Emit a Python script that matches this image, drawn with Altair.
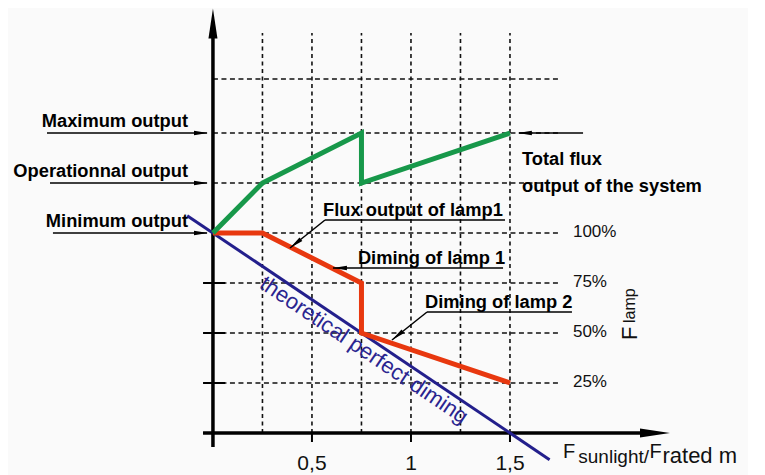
import math
import altair as alt
import pandas as pd

# ---------------- values ----------------
# x = F_sunlight / F_rated ; y = flux in % of one lamp
total_x = [0, 0.25, 0.75, 0.75, 1.5]
total_y = [100, 125, 150, 125, 150]
lamp_x = [0, 0.25, 0.75, 0.75, 1.5]
lamp_y = [100, 100, 75, 50, 25]
theory_x = [-0.13, 1.7]
theory_y = [108.67, -13.33]

grid_x = [0.25, 0.5, 0.75, 1.0, 1.25, 1.5]
grid_y = [25, 50, 75, 100, 125, 150, 177]
xtick_vals = [0.5, 1.0, 1.5]
xtick_labels = ["0,5", "1", "1,5"]
ytick_vals = [0, 25, 50, 75]
pct_vals = [100, 75, 50, 25]
pct_labels = ["100%", "75%", "50%", "25%"]
level_names = ["Maximum output", "Operationnal output", "Minimum output"]
level_vals = [150, 125, 100]

# ---------------- layout ----------------
W, H = 740, 467
XDOM = [-1.035, 2.702]
YDOM = [-21.0, 212.5]
SX = W / (XDOM[1] - XDOM[0])
SY = H / (YDOM[1] - YDOM[0])
xs = alt.Scale(domain=XDOM, nice=False, zero=False)
ys = alt.Scale(domain=YDOM, nice=False, zero=False)

BOLD = "Liberation Sans, Arial, sans-serif"
REG = "Liberation Sans, Arial, sans-serif"
ARROW = "M1,0L-1,-0.32L-1,0.32Z"
BIGARROW = "M1,0L-1,-0.3L-1,0.3Z"


def rules(rows, **kw):
    df = pd.DataFrame(rows, columns=["x", "y", "x2", "y2"])
    return alt.Chart(df).mark_rule(**kw).encode(
        x=alt.X("x:Q", scale=xs, axis=None),
        y=alt.Y("y:Q", scale=ys, axis=None),
        x2="x2:Q", y2="y2:Q")


def series(xv, yv, **kw):
    df = pd.DataFrame({"x": xv, "y": yv, "i": range(len(xv))})
    return alt.Chart(df).mark_line(**kw).encode(
        x=alt.X("x:Q", scale=xs, axis=None),
        y=alt.Y("y:Q", scale=ys, axis=None),
        order=alt.Order("i:Q"))


def heads(rows, shape, length):
    # rows: (tip_x, tip_y, angle_deg)
    out = []
    for tx, ty, a in rows:
        r = math.radians(a)
        cx = tx - (length / 2) * math.cos(r) / SX
        cy = ty + (length / 2) * math.sin(r) / SY
        out.append({"x": cx, "y": cy, "a": a % 360, "s": length * length})
    df = pd.DataFrame(out)
    return alt.Chart(df).mark_point(shape=shape, filled=True, color="black",
                                    opacity=1, strokeWidth=0).encode(
        x=alt.X("x:Q", scale=xs, axis=None),
        y=alt.Y("y:Q", scale=ys, axis=None),
        angle=alt.Angle("a:Q", scale=None),
        size=alt.Size("s:Q", scale=None))


def texts(rows, **kw):
    # rows: (x, y, text, fontsize, angle)
    df = pd.DataFrame(rows, columns=["x", "y", "t", "fs", "a"])
    return alt.Chart(df).mark_text(**kw).encode(
        x=alt.X("x:Q", scale=xs, axis=None),
        y=alt.Y("y:Q", scale=ys, axis=None),
        text="t:N",
        size=alt.Size("fs:Q", scale=None),
        angle=alt.Angle("a:Q", scale=None))


def seg_angle(x0, y0, x1, y1):
    return math.degrees(math.atan2(-(y1 - y0) * SY, (x1 - x0) * SX))


layers = []
# grid
layers.append(rules([(0, g, 1.753, g) for g in grid_y],
                    color="#111111", strokeWidth=1.6, strokeDash=[5, 3.5]))
layers.append(rules([(g, 0, g, 200) for g in grid_x],
                    color="#111111", strokeWidth=1.6, strokeDash=[4, 3.5]))
# axes and ticks
layers.append(rules([(0, -7, 0, 197.5), (-0.05, 0, 2.157, 0)],
                    color="black", strokeWidth=3.5))
layers.append(rules([(-0.05, v, 0.061, v) for v in ytick_vals] +
                    [(v, 0, v, -4.5) for v in xtick_vals],
                    color="black", strokeWidth=2))
# data series
layers.append(series(theory_x, theory_y, color="#231f8c", strokeWidth=3))
layers.append(series(lamp_x, lamp_y, color="#e8380f", strokeWidth=5))
layers.append(series(total_x, total_y, color="#17984a", strokeWidth=5))

# annotation lines
left_start = [-0.838, -0.823, -0.808]
ann = [(s, v, -0.03, v) for s, v in zip(left_start, level_vals)]
ann += [
    (0.566, 106.5, 1.475, 106.5), (0.566, 106.5, 0.389, 92.5),   # flux lamp1
    (0.606, 82.5, 1.465, 82.5),                                   # diming lamp1
    (1.081, 60.5, 1.813, 60.5), (1.081, 60.5, 0.904, 46.5),       # diming lamp2
    (1.869, 150, 1.545, 150),                                     # total flux
]
layers.append(rules(ann, color="black", strokeWidth=1.5))
small = [(-0.025, v, 0) for v in level_vals]
small += [
    (0.389, 92.5, seg_angle(0.566, 106.5, 0.389, 92.5)),
    (0.606, 82.5, 180),
    (0.904, 46.5, seg_angle(1.081, 60.5, 0.904, 46.5)),
    (1.540, 150, 180),
]
layers.append(heads(small, ARROW, 14))
layers.append(heads([(0, 212.3, 270), (2.308, 0, 0)], BIGARROW, 30))

# texts
layers.append(texts([(-0.126, v + 3, n, 18.3, 0) for n, v in zip(level_names, level_vals)],
                    font=BOLD, fontWeight="bold", align="right",
                    baseline="alphabetic", color="black"))
layers.append(texts([
    (0.556, 108.5, "Flux output of lamp1", 18.3, 0),
    (0.732, 84.5, "Diming of lamp 1", 18.3, 0),
    (1.071, 62.5, "Diming of lamp 2", 18.3, 0),
    (1.561, 134, "Total flux", 18.3, 0),
    (1.561, 120.5, "output of the system", 18.3, 0),
], font=BOLD, fontWeight="bold", align="left", baseline="alphabetic", color="black"))
layers.append(texts([(1.818, v - 1.8, t, 17, 0) for v, t in zip(pct_vals, pct_labels)],
                    font=REG, align="left", baseline="alphabetic", color="#111111"))
layers.append(texts([(v, -18.5, t, 21, 0) for v, t in zip(xtick_vals, xtick_labels)],
                    font=REG, align="center", baseline="alphabetic", color="#111111"))
layers.append(texts([
    (1.768, -12.5, "F", 20, 0),
    (1.845, -15, "sunlight/", 19, 0),
    (2.205, -12.5, "F", 20, 0),
    (2.27, -15, "rated m", 22, 0),
    (2.141, 46.5, "F", 22, 270),
    (2.131, 55, "lamp", 16, 270),
], font=REG, align="left", baseline="alphabetic", color="#111111"))
layers.append(texts([(0.763, 41.5, "theoretical perfect diming", 22, 34)],
                    font=REG, align="center", baseline="middle", color="#2a2590"))

chart = alt.layer(*layers).properties(
    width=W, height=H, padding=0,
    autosize=alt.AutoSizeParams(type="none"),
    background="#fafafa",
).configure_view(stroke=None)

chart.save("out.html", embed_options={"renderer": "svg", "actions": False})
